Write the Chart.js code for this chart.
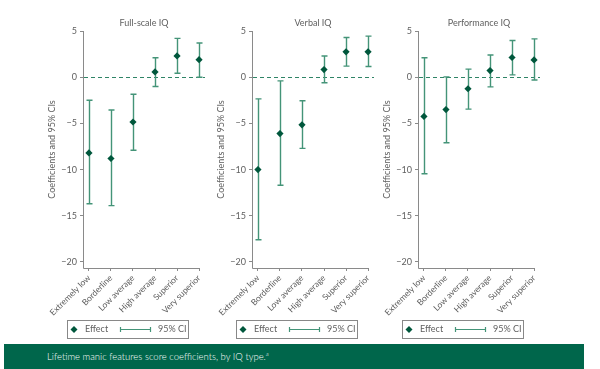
<!DOCTYPE html>
<html>
<head>
<meta charset="utf-8">
<script src="https://cdn.jsdelivr.net/npm/chart.js@4.4.0/dist/chart.umd.min.js"></script>
<style>
  body { margin: 0; background: #fff; width: 600px; height: 369px; position: relative; overflow: hidden; font-family: Lato, sans-serif; }
  .panel { position: absolute; top: 0; width: 210px; height: 343px; }
  .caption { position: absolute; left: 4px; top: 344px; width: 580px; height: 25px; background: #00664b; color: #fff;
             font-size: 9.5px; font-weight: 300; line-height: 25px; padding-left: 43px; box-sizing: border-box; }
  .caption sup { font-size: 6px; vertical-align: 4px; line-height: 0; }
</style>
</head>
<body>
<div class="panel" style="left:0px"><canvas id="fullChart"></canvas></div>
<div class="panel" style="left:169px"><canvas id="verbalChart"></canvas></div>
<div class="panel" style="left:335px"><canvas id="perfChart"></canvas></div>
<div class="caption">Lifetime manic features score coefficients, by IQ type.<sup>a</sup></div>

<script>
// Data
const categories = ['Extremely low', 'Borderline', 'Low average', 'High average', 'Superior', 'Very superior'];
const yTicks = [5, 0, -5, -10, -15, -20];

const fullEst  = [-8.2, -8.8, -4.85, 0.57, 2.3, 1.9];
const fullLow  = [-13.7, -13.9, -7.9, -1.0, 0.43, 0.0];
const fullHigh = [-2.5, -3.55, -1.85, 2.1, 4.2, 3.7];

const verbalEst  = [-10.0, -6.1, -5.15, 0.83, 2.75, 2.75];
const verbalLow  = [-17.6, -11.7, -7.7, -0.6, 1.2, 1.15];
const verbalHigh = [-2.35, -0.4, -2.55, 2.3, 4.3, 4.45];

const perfEst  = [-4.25, -3.5, -1.25, 0.72, 2.13, 1.87];
const perfLow  = [-10.45, -7.1, -3.45, -1.05, 0.25, -0.3];
const perfHigh = [2.1, 0.03, 0.87, 2.4, 3.97, 4.15];

const FONT = 'Lato, sans-serif';
const textColor = '#606060';
const axisColor = '#8a8a8a';
const markerColor = '#00573c';
const ciColor = '#449478';

// axis lines, zero line, CI bars, titles and legend
const decorPlugin = {
    id: 'decor',
    beforeDatasetsDraw(chart) {
        const { ctx, chartArea: a, scales: { x, y } } = chart;
        const p = chart.options.plugins.decor;
        ctx.save();

        // axis lines
        ctx.strokeStyle = axisColor;
        ctx.lineWidth = 1;
        ctx.beginPath();
        ctx.moveTo(a.left + 0.5, a.top);
        ctx.lineTo(a.left + 0.5, a.bottom + 0.5);
        ctx.lineTo(x.getPixelForValue(categories.length), a.bottom + 0.5);
        ctx.stroke();

        // dashed zero reference
        const y0 = Math.round(y.getPixelForValue(0)) + 0.5;
        ctx.strokeStyle = '#2f8466';
        ctx.lineWidth = 1.1;
        ctx.setLineDash([4, 3]);
        ctx.beginPath();
        ctx.moveTo(a.left + 1, y0);
        ctx.lineTo(a.right, y0);
        ctx.stroke();
        ctx.setLineDash([]);

        // confidence intervals
        ctx.strokeStyle = ciColor;
        ctx.lineWidth = 1.4;
        p.low.forEach((lo, i) => {
            const px = Math.round(x.getPixelForValue(i + 1)) + 0.5;
            const yl = y.getPixelForValue(lo);
            const yh = y.getPixelForValue(p.high[i]);
            ctx.beginPath();
            ctx.moveTo(px, yl); ctx.lineTo(px, yh);
            ctx.moveTo(px - 3, yl); ctx.lineTo(px + 3, yl);
            ctx.moveTo(px - 3, yh); ctx.lineTo(px + 3, yh);
            ctx.stroke();
        });
        ctx.restore();
    },
    afterDraw(chart) {
        const { ctx, chartArea: a } = chart;
        const p = chart.options.plugins.decor;
        ctx.save();
        ctx.fillStyle = textColor;

        // panel title
        ctx.font = '9px ' + FONT;
        ctx.textAlign = 'center';
        ctx.textBaseline = 'middle';
        ctx.fillText(p.title, (a.left + a.right) / 2, 23);

        // y axis title
        ctx.save();
        ctx.translate(52, (a.top + a.bottom) / 2);
        ctx.rotate(-Math.PI / 2);
        ctx.fillText('Coefficients and 95% CIs', 0, 0);
        ctx.restore();

        // legend box
        const bx = 67, by = 320, bw = 121, bh = 18;
        ctx.strokeStyle = '#888';
        ctx.lineWidth = 1;
        ctx.strokeRect(bx + 0.5, by + 0.5, bw, bh);
        const cy = by + bh / 2 + 0.5;
        ctx.fillStyle = markerColor;
        ctx.beginPath();
        ctx.moveTo(74, cy - 3.5); ctx.lineTo(77.5, cy); ctx.lineTo(74, cy + 3.5); ctx.lineTo(70.5, cy);
        ctx.closePath();
        ctx.fill();
        ctx.fillStyle = textColor;
        ctx.textAlign = 'left';
        ctx.fillText('Effect', 85, cy);
        ctx.strokeStyle = ciColor;
        ctx.lineWidth = 1.2;
        ctx.beginPath();
        ctx.moveTo(120, cy); ctx.lineTo(151, cy);
        ctx.moveTo(120.5, cy - 2.5); ctx.lineTo(120.5, cy + 2.5);
        ctx.moveTo(150.5, cy - 2.5); ctx.lineTo(150.5, cy + 2.5);
        ctx.stroke();
        ctx.fillText('95% CI', 158, cy);
        ctx.restore();
    }
};

function makePanel(id, title, est, low, high) {
    const ctx = document.getElementById(id).getContext('2d');
    return new Chart(ctx, {
        type: 'scatter',
        data: {
            datasets: [{
                label: 'Effect',
                data: est.map((v, i) => ({ x: i + 1, y: v })),
                pointStyle: 'rectRot',
                pointRadius: 3.6,
                backgroundColor: markerColor,
                borderColor: markerColor,
                borderWidth: 0
            }]
        },
        options: {
            responsive: true,
            maintainAspectRatio: false,
            animation: false,
            layout: { padding: { top: 31, right: 5, left: 0, bottom: 0 } },
            plugins: {
                legend: { display: false },
                tooltip: { enabled: false },
                decor: { title: title, low: low, high: high }
            },
            scales: {
                x: {
                    type: 'linear',
                    min: 0.73,
                    max: 6.27,
                    afterFit: s => { s.height = 75; },
                    afterBuildTicks: s => { s.ticks = categories.map((c, i) => ({ value: i + 1 })); },
                    border: { display: false },
                    grid: { drawOnChartArea: false, drawTicks: true, tickLength: 3, color: axisColor },
                    ticks: {
                        autoSkip: false,
                        minRotation: 45,
                        maxRotation: 45,
                        padding: 2,
                        color: textColor,
                        font: { family: FONT, size: 8.5 },
                        callback: v => categories[v - 1]
                    }
                },
                y: {
                    min: -20.65,
                    max: 5,
                    afterFit: s => { s.width = 83; },
                    afterBuildTicks: s => { s.ticks = yTicks.map(v => ({ value: v })); },
                    border: { display: false },
                    grid: { drawOnChartArea: false, drawTicks: true, tickLength: 3, color: axisColor },
                    ticks: {
                        padding: 3,
                        color: textColor,
                        font: { family: FONT, size: 9 },
                        callback: v => String(v).replace('-', '\u2212')
                    }
                }
            }
        }
        ,
        plugins: [decorPlugin]
    });
}

makePanel('fullChart', 'Full-scale IQ', fullEst, fullLow, fullHigh);
makePanel('verbalChart', 'Verbal IQ', verbalEst, verbalLow, verbalHigh);
makePanel('perfChart', 'Performance IQ', perfEst, perfLow, perfHigh);
</script>
</body>
</html>
